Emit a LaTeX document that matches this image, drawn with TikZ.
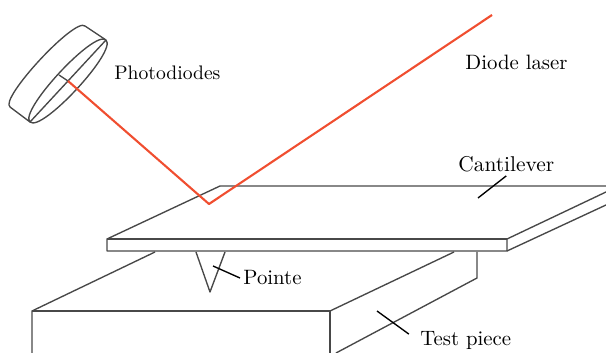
\documentclass[tikz,border=0pt]{standalone}
\usepackage{xcolor}
\usepackage{tikz}
\definecolor{AFMLine}{HTML}{484848}
\definecolor{AFMLaser}{HTML}{F04E30}
\tikzset{
  outline/.style={AFMLine,line width=.68pt,line join=round},
  leaderline/.style={black,line width=.68pt},
  label/.style={anchor=base west,inner sep=1.5pt,font=\fontsize{10.4}{12}\selectfont}
}

\begin{document}
\begin{tikzpicture}[x=.5pt,y=-.5pt]
\path[use as bounding box] (0,0) rectangle (606,353);
% test piece
\draw[outline] (155,252) -- (32,311) -- (32,353);
\draw[outline] (32,311) -- (330,311) -- (330,353);
\draw[outline] (330,311) -- (454,252);
\draw[outline] (477,252) -- (477,278) -- (336,353);
% cantilever
\draw[outline] (606,186) -- (220,186) -- (107,239) -- (107,251) -- (507,251) -- (507,239) -- (606,192);
\draw[outline] (107,239) -- (507,239);
\draw[outline] (507,251) -- (606,205);
% tip
\draw[outline] (196,252) -- (210,292) -- (225,252);
% photodiodes
\draw[outline] (106,40) .. controls (94.4,29.2) and (18.4,111.2) .. (30,122) .. controls (41.6,132.8) and (117.6,50.8) .. (106,40);
\draw[outline] (106,40) -- (30,122);
\draw[outline] (106,40) -- (85,26) .. controls (75,17) and (-1,99) .. (10,107) -- (30,122);
\draw[outline] (59,75) -- (68,81);
% laser
\draw[AFMLaser,line width=1.05pt,line join=round] (492,15) -- (209,204) -- (68,81);
% labels
\node[label,font=\fontsize{9.8}{12}\selectfont] (photodiodes) at (111,80) {Photodiodes};
\node[label] (laser) at (462,70) {Diode laser};
\node[label,font=\fontsize{10.7}{12}\selectfont] (cantilever) at (455,172) {Cantilever};
\node[label] (pointe) at (240,285) {Pointe};
\node[label] (testpiece) at (417,345) {Test piece};
\coordinate (cantileverEnd) at (478,198);
\coordinate (pointeEnd) at (213,266);
\coordinate (testpieceEnd) at (377,311);
\draw[leaderline] (cantileverEnd) -- (cantilever.south);
\draw[leaderline] (pointeEnd) -- (pointe.west);
\draw[leaderline,shorten >=5pt] (testpieceEnd) -- (testpiece.west);
\end{tikzpicture}
\end{document}
